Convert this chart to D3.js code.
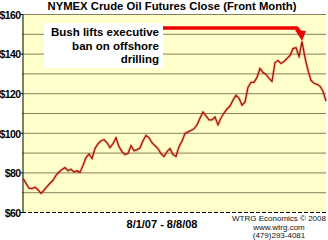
<!DOCTYPE html>
<html><head><meta charset="utf-8">
<script src="https://cdn.jsdelivr.net/npm/d3@7"></script>
<style>
html,body{margin:0;padding:0;background:#fff;}
svg{display:block;}
text{font-family:Arial,"Liberation Sans",sans-serif;}
</style></head>
<body>
<script>
const prices = [
 77.0,74.5,72.0,71.8,72.5,71.2,69.4,71.0,72.8,74.5,
 76.0,78.5,80.2,81.5,82.4,80.8,81.6,80.2,80.8,80.0,
 83.5,87.5,89.3,87.0,92.0,94.5,96.0,96.5,95.0,92.5,
 94.5,97.5,93.0,90.5,89.0,89.5,93.5,91.0,91.5,92.3,
 96.0,98.7,97.5,95.0,93.5,92.0,89.5,88.0,90.5,92.0,
 89.0,88.0,93.0,95.8,99.7,100.5,101.2,102.0,104.0,107.3,
 110.5,108.5,106.5,106.5,108.0,104.0,107.5,110.0,112.0,113.5,
 116.5,119.0,117.5,114.0,115.5,123.0,125.5,125.5,128.0,132.5,
 130.5,129.5,127.5,126.0,135.5,136.5,135.0,136.0,137.5,139.0,
 142.5,143.0,138.5,146.0,138.0,131.5,126.5,125.0,124.5,123.5,
 121.0,116.0
];
const yTicks = [60,80,100,120,140,160];
const gridValues = [70,80,90,100,110,120,130,140,150,160];
const titleText = "NYMEX Crude Oil Futures Close (Front Month)";
const noteLines = ["Bush lifts executive","ban on offshore","drilling"];
const dateRange = "8/1/07 - 8/8/08";
const creditLines = ["WTRG Economics \u00A9 2008","www.wtrg.com","(479)293-4081"];

const W=328,H=240;
const L=22,R=326,T=14,B=212;
const svg=d3.select("body").append("svg").attr("width",W).attr("height",H);

const x=d3.scaleLinear().domain([0,prices.length-1]).range([L+1,R]);
const y=d3.scaleLinear().domain([60,160]).range([B,T]);

svg.append("rect").attr("x",L).attr("y",T).attr("width",R-L).attr("height",B-T).attr("fill","#ffffcc");

svg.append("g").selectAll("line").data(gridValues).join("line")
  .attr("x1",L).attr("x2",R).attr("y1",d=>y(d)+0.5).attr("y2",d=>y(d)+0.5)
  .attr("stroke","#85805c").attr("stroke-width",1);

// axis
const ax=svg.append("g").attr("transform",`translate(${L+0.5},0)`)
  .call(d3.axisLeft(y).tickValues(yTicks).tickSize(2).tickPadding(0).tickFormat(d=>"$"+d));
ax.select(".domain").attr("stroke","#000");
ax.selectAll(".tick line").attr("stroke","#000");
ax.selectAll("text").attr("font-size","10.5px").attr("font-weight","bold").attr("fill","#000")
  .attr("letter-spacing","-0.6px").attr("dy","0.4em");

// bottom dashed line
svg.append("line").attr("x1",L).attr("x2",R).attr("y1",B+0.5).attr("y2",B+0.5)
  .attr("stroke","#000").attr("stroke-width",1).attr("stroke-dasharray","4,2");

// line
const line=d3.line().x((d,i)=>x(i)).y(d=>y(d));
svg.append("path").datum(prices).attr("d",line).attr("fill","none")
  .attr("stroke","rgba(230,80,50,0.3)").attr("stroke-width",3).attr("stroke-linejoin","round");
svg.append("path").datum(prices).attr("d",line).attr("fill","none")
  .attr("stroke","#a8140c").attr("stroke-width",1.3).attr("stroke-linejoin","miter");

// title
svg.append("text").attr("x",172).attr("y",10).attr("text-anchor","middle")
  .attr("font-size","11px").attr("font-weight","bold").text(titleText)
  .attr("textLength",249).attr("lengthAdjust","spacingAndGlyphs");

// annotation
svg.append("rect").attr("x",44).attr("y",23).attr("width",119).attr("height",45).attr("fill","#fff");
svg.append("g").selectAll("text").data(noteLines).join("text")
  .attr("x",159).attr("y",(d,i)=>36+i*13.5).attr("text-anchor","end")
  .attr("font-size","11.5px").attr("font-weight","bold").attr("fill","#000").text(d=>d);

// arrow
svg.append("path").attr("d","M163,28 H297 L300,32").attr("fill","none")
  .attr("stroke","#ee0000").attr("stroke-width",3.5).attr("stroke-linejoin","round");
svg.append("path").attr("d","M295,30 L306,31 L302,41 Z").attr("fill","#ee0000");

// bottom labels
svg.append("text").attr("x",162).attr("y",228).attr("text-anchor","middle")
  .attr("font-size","11px").attr("font-weight","bold").text(dateRange);
svg.append("g").selectAll("text").data(creditLines).join("text")
  .attr("x",279).attr("y",(d,i)=>221+i*8.5).attr("text-anchor","middle")
  .attr("font-size","8px").attr("fill","#111").text(d=>d);
</script>
</body></html>
